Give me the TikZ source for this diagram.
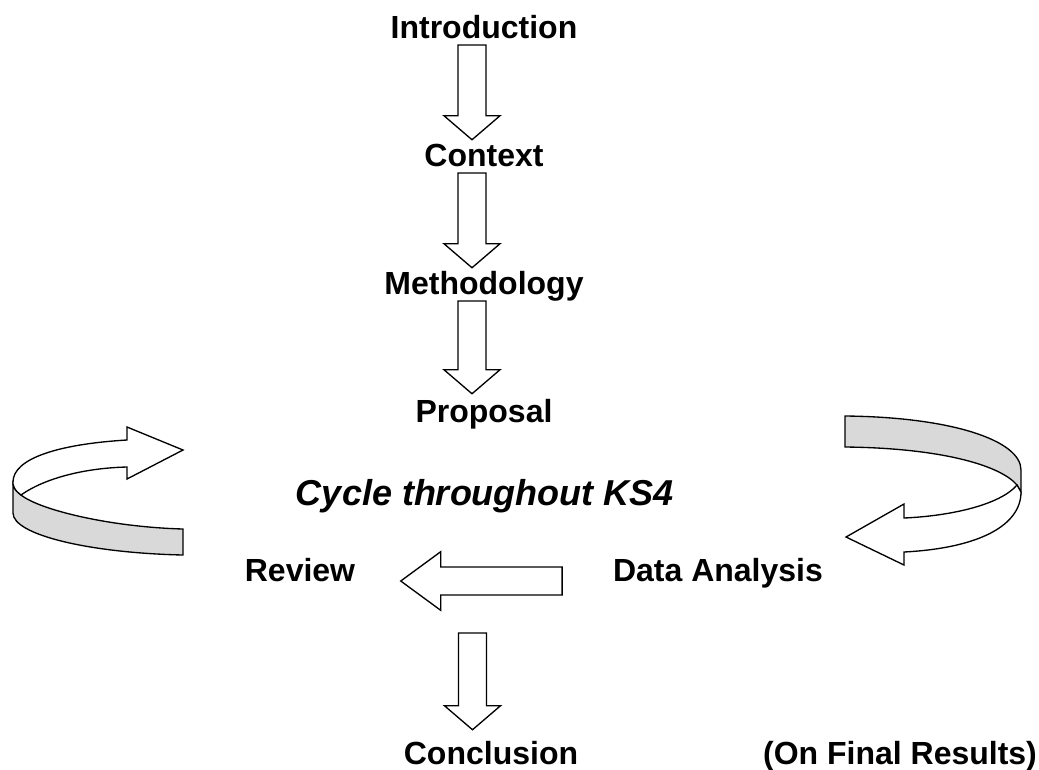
\documentclass[tikz,border=0pt]{standalone}
\usepackage{fontspec}
\setmainfont{Liberation Sans}
\usetikzlibrary{positioning,calc}
\definecolor{ribbon}{RGB}{217,217,217}
\tikzset{
  label/.style={font=\bfseries\fontsize{24}{28}\selectfont, inner sep=0pt, text height=17pt, text depth=5pt},
  blockdown/.style={draw, line width=1pt, to path={let \p1=(\tikztostart), \p2=(\tikztotarget) in
    (\x1-10.5pt,\y1) -- (\x1-10.5pt,\y2+18pt) -- (\x1-21pt,\y2+18pt) -- (\x1,\y2)
    -- (\x1+21pt,\y2+18pt) -- (\x1+10.5pt,\y2+18pt) -- (\x1+10.5pt,\y1) -- cycle}},
  blockleft/.style={draw, line width=1pt, to path={let \p1=(\tikztostart), \p2=(\tikztotarget) in
    (\x1,\y1+10.5pt) -- (\x2+30pt,\y1+10.5pt) -- (\x2+30pt,\y1+22pt) -- (\x2,\y1)
    -- (\x2+30pt,\y1-22pt) -- (\x2+30pt,\y1-10.5pt) -- (\x1,\y1-10.5pt) -- cycle}},
  band/.style={draw, line width=1pt, fill=ribbon},
  turn/.style={draw, line width=1pt, fill=white}
}
\begin{document}
\begin{tikzpicture}[x=0.75pt, y=-0.75pt, node distance=96pt]
  \useasboundingbox (0,0) rectangle (1039,769);
  % main column
  \node[label](intro) at (484,30) {Introduction};
  \node[label](context) [below of=intro] {Context};
  \node[label](method) [below of=context] {Methodology};
  \node[label](proposal) [below of=method] {Proposal};
  \node[label, font=\bfseries\itshape\fontsize{27}{32}\selectfont](cycle) at (485,505) [anchor=base] {Cycle throughout KS4};
  \node[label](review) at (300,581) [anchor=base] {Review};
  \node[label](data) at (718,581) [anchor=base] {Data Analysis};
  \node[label](concl) at (491,764) [anchor=base] {Conclusion};
  \node[label](final) at (900,764) [anchor=base] {(On Final Results)};
  \coordinate (loop) at (472.5,633);
  \draw[blockdown] ([xshift=-9pt]intro.south) to ([yshift=2.5pt]context.north);
  \draw[blockdown] ([xshift=-9pt]context.south) to ([yshift=2.5pt]method.north);
  \draw[blockdown] ([xshift=-9pt]method.south) to ([yshift=4pt]proposal.north);
  \draw[blockleft] ([xshift=-38pt]data.base west) to ([xshift=34pt]review.base east);
  \draw[blockdown] (loop) to ([yshift=8.5pt]concl.north);
  % left ribbon
  \path[band] (21,495) .. controls (40,510) and (110,527) .. (183,529) -- (183,555)
    .. controls (90,553) and (13,535) .. (13,513) -- (13,484) .. controls (15,490) .. (21,495) -- cycle;
  \path[turn] (21,495) .. controls (45,478) and (85,468) .. (127,467) -- (127,479) -- (183,450)
    -- (127,427) -- (127,440) .. controls (60,444) and (13,458) .. (13,482) -- (13,484)
    .. controls (15,490) .. (21,495) -- cycle;
  % right ribbon
  \path[band] (845,416) .. controls (950,417) and (1021,440) .. (1021,470) -- (1021,492)
    -- (1017,485) .. controls (1000,465) and (940,448) .. (845,447) -- cycle;
  \path[turn] (1017,485) .. controls (1000,505) and (950,516) .. (904,518) -- (904,504)
    -- (846,537) -- (904,565) -- (904,552) .. controls (980,548) and (1021,525) .. (1021,492) -- cycle;
\end{tikzpicture}
\end{document}
